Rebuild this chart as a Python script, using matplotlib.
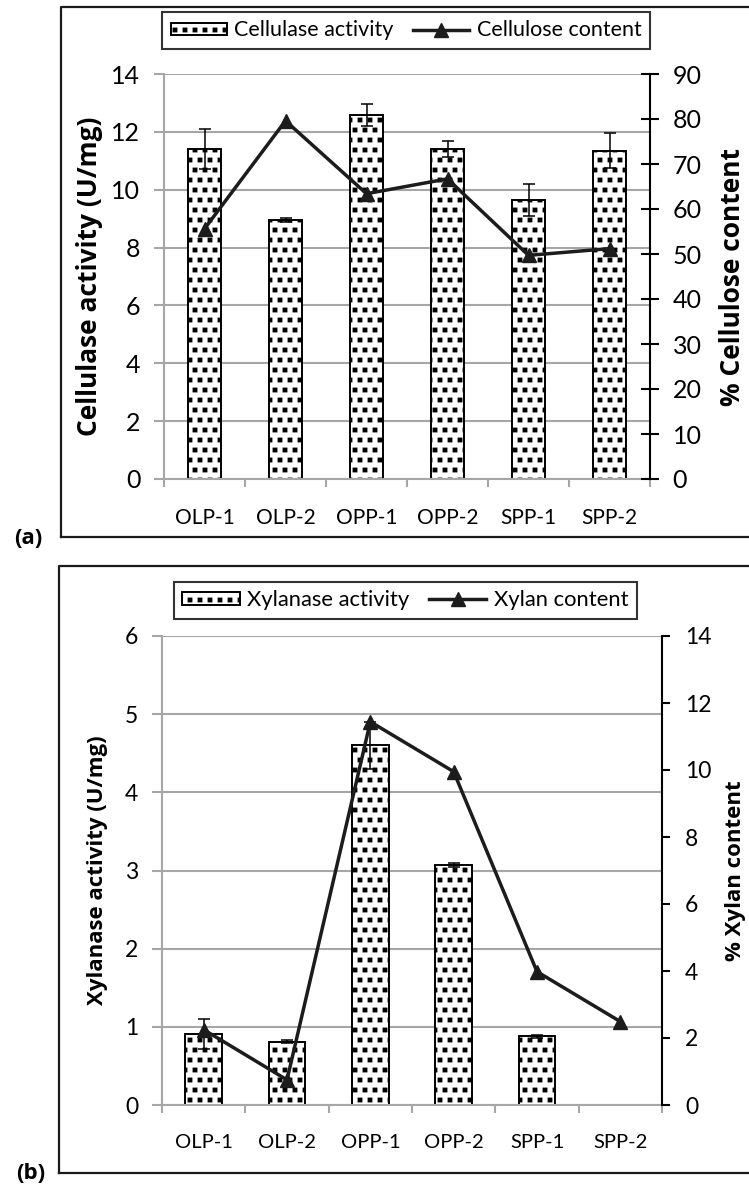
import matplotlib
matplotlib.use("Agg")
import matplotlib.pyplot as plt
from matplotlib.lines import Line2D
from matplotlib.path import Path
import matplotlib.hatch as mhatch
import numpy as np

plt.rcParams['font.family'] = ['Lato', 'DejaVu Sans']

# square-dot hatch ('.' chars) to mimic the spreadsheet's dotted fill
try:
    class SquareDots(mhatch.Shapes):
        size = 0.2
        filled = True

        def __init__(self, hatch, density):
            self.num_rows = hatch.count('.') * 5
            self.shape_vertices = np.array(
                [[-1, -1], [1, -1], [1, 1], [-1, 1], [-1, -1]], dtype=float)
            self.shape_codes = np.array(
                [Path.MOVETO, Path.LINETO, Path.LINETO, Path.LINETO, Path.CLOSEPOLY],
                dtype=Path.code_type)
            super().__init__(hatch, density)

    mhatch._hatch_types = [SquareDots if t is mhatch.SmallFilledCircles else t
                           for t in mhatch._hatch_types]
    plt.rcParams['hatch.linewidth'] = 0.6
except Exception:
    plt.rcParams['hatch.linewidth'] = 2.2

BOLD_FAMILY = ['Open Sans', 'DejaVu Sans']

# ---------------- data ----------------
categories = ["OLP-1", "OLP-2", "OPP-1", "OPP-2", "SPP-1", "SPP-2"]

cellulase_activity = [11.41, 8.95, 12.58, 11.41, 9.64, 11.35]
cellulase_err = [0.68, 0.08, 0.37, 0.28, 0.55, 0.60]
cellulose_content = [55.6, 79.6, 63.4, 66.7, 49.7, 51.2]

xylanase_activity = [0.91, 0.81, 4.60, 3.07, 0.88, 0.0]
xylanase_err = [0.19, 0.02, 0.30, 0.02, 0.02, 0.0]
xylan_content = [2.25, 0.75, 11.44, 9.95, 3.98, 2.49]

left_ticks_a = [0, 2, 4, 6, 8, 10, 12, 14]
right_ticks_a = [0, 10, 20, 30, 40, 50, 60, 70, 80, 90]
left_ticks_b = [0, 1, 2, 3, 4, 5, 6]
right_ticks_b = [0, 2, 4, 6, 8, 10, 12, 14]

W, H = 749, 1191
fig = plt.figure(figsize=(W / 100, H / 100), dpi=100)

GRID = '#a6a6a6'
LINEC = '#1c1c1c'


def px_rect(l, t, r, b):
    return [l / W, (H - b) / H, (r - l) / W, (b - t) / H]


def panel(rect, act, err, cont, lticks, rticks, bar_label, line_label,
          ylab_l, ylab_r, legend_box, tick_fs, xtick_fs, lab_fs, leg_fs,
          right_dir, lab_lx, lab_rx, bar_w):
    ax = fig.add_axes(rect)
    ymid = rect[1] + rect[3] / 2
    x = np.arange(len(categories))
    act = np.asarray(act, dtype=float)
    err = np.asarray(err, dtype=float)
    shown = act > 0
    bars = ax.bar(x[shown], act[shown], width=bar_w, color='white', edgecolor='black',
                  hatch='..', linewidth=1.4, zorder=2, label=bar_label)
    has_err = err > 0
    ax.errorbar(x[has_err], act[has_err], yerr=err[has_err], fmt='none',
                ecolor='black', elinewidth=1.1, capsize=4.3, capthick=1.1, zorder=3)
    ax.set_xlim(-0.5, len(categories) - 0.5)
    ax.set_ylim(lticks[0], lticks[-1])
    ax.set_yticks(lticks)
    ax.set_axisbelow(True)
    ax.yaxis.grid(True, color=GRID, linewidth=1.5)
    for s in ['top', 'right']:
        ax.spines[s].set_visible(False)
    for s in ['left', 'bottom']:
        ax.spines[s].set_color(GRID)
        ax.spines[s].set_linewidth(1.5)
    ax.set_xticks(x)
    ax.set_xticklabels(categories, fontsize=xtick_fs)
    ax.set_xticks(np.arange(-0.5, len(categories)), minor=True)
    ax.tick_params(axis='x', which='major', length=0, pad=21)
    ax.tick_params(axis='x', which='minor', length=6, width=1.5, color=GRID)
    ax.tick_params(axis='y', length=7, width=1.5, color=GRID, pad=10,
                   labelsize=tick_fs)
    ax.set_ylabel(ylab_l, fontsize=lab_fs, fontweight='bold', family=BOLD_FAMILY)
    ax.yaxis.set_label_coords(lab_lx / W, ymid, transform=fig.transFigure)
    ax.yaxis.label.set_va('center')

    ax2 = ax.twinx()
    ln, = ax2.plot(x, cont, color=LINEC, linewidth=2.5, marker='^',
                   markersize=10.5, label=line_label, zorder=4)
    ax2.set_ylim(rticks[0], rticks[-1])
    ax2.set_yticks(rticks)
    for s in ['top', 'left', 'bottom']:
        ax2.spines[s].set_visible(False)
    ax2.spines['right'].set_color('black')
    ax2.spines['right'].set_linewidth(1.5)
    if right_dir == 'inout':
        ax2.tick_params(axis='y', direction='inout', length=13.5, width=1.5,
                        pad=9.5, labelsize=tick_fs)
    else:
        ax2.tick_params(axis='y', direction='out', length=5.5, width=1.5,
                        pad=11, labelsize=tick_fs)
    ax2.set_ylabel(ylab_r, fontsize=lab_fs, fontweight='bold', family=BOLD_FAMILY)
    ax2.yaxis.set_label_coords(lab_rx / W, ymid, transform=fig.transFigure)
    ax2.yaxis.label.set_va('center')

    l, t, r, b = legend_box
    leg = fig.legend([bars, ln], [bar_label, line_label], loc='center',
                     bbox_to_anchor=((l + r) / 2 / W, (H - (t + b) / 2) / H),
                     ncol=2, fontsize=leg_fs, frameon=True,
                     fancybox=False, edgecolor='black', handlelength=2.6,
                     handleheight=0.5, borderaxespad=0, borderpad=0.4,
                     columnspacing=0.9, handletextpad=0.35)
    leg.get_frame().set_linewidth(1.5)
    return ax, ax2


panel(px_rect(164, 74, 650, 479), cellulase_activity, cellulase_err,
      cellulose_content, left_ticks_a, right_ticks_a,
      "Cellulase activity", "Cellulose content",
      "Cellulase activity (U/mg)", "% Cellulose content",
      (163, 10, 649, 51), 18, 15, 19, 15.5, 'inout', 90, 732, 0.41)

panel(px_rect(162, 636, 662, 1105), xylanase_activity, xylanase_err,
      xylan_content, left_ticks_b, right_ticks_b,
      "Xylanase activity", "Xylan content",
      "Xylanase activity (U/mg)", "% Xylan content",
      (161, 575, 650, 626), 16.5, 14.5, 16, 15.8, 'out', 98, 735, 0.44)

# panel frames
def frame(l, t, b):
    fig.add_artist(Line2D([l / W, l / W, 1.0], [(H - b) / H, (H - t) / H, (H - t) / H],
                          transform=fig.transFigure, color='#1a1a1a', linewidth=1.6))
    fig.add_artist(Line2D([l / W, 1.0], [(H - b) / H, (H - b) / H],
                          transform=fig.transFigure, color='#1a1a1a', linewidth=1.6))

frame(61, 7, 537)
frame(59, 566, 1173)

fig.text(28 / W, (H - 538.5) / H, "(a)", fontsize=16, fontweight='bold',
         family=BOLD_FAMILY, ha='center', va='center')
fig.text(31 / W, (H - 1173.5) / H, "(b)", fontsize=16, fontweight='bold',
         family=BOLD_FAMILY, ha='center', va='center')

fig.savefig("out.png", dpi=100)
